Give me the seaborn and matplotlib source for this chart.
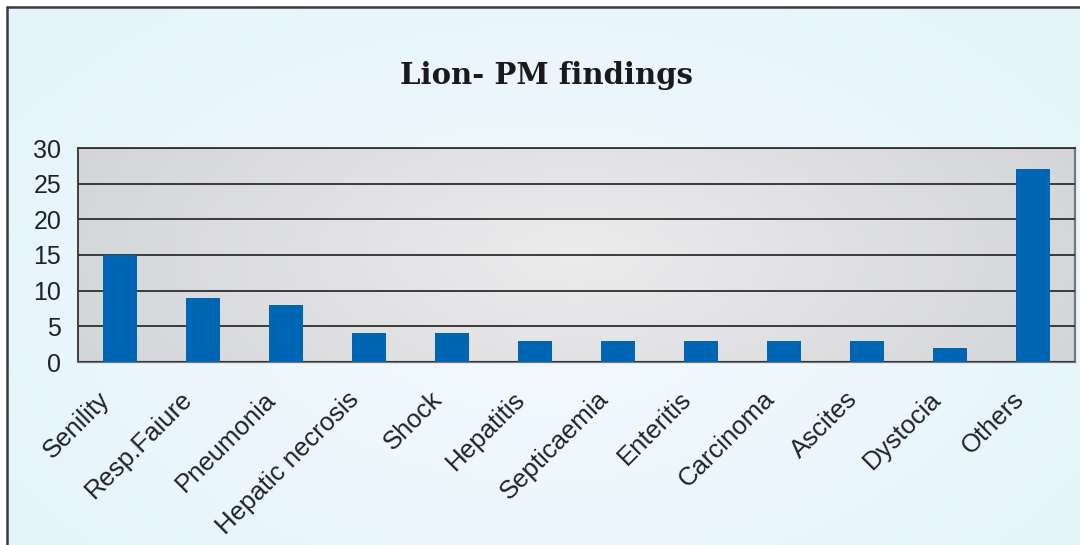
import numpy as np
import pandas as pd
import matplotlib
matplotlib.use("Agg")
import matplotlib.pyplot as plt
import matplotlib.transforms as mtransforms
import seaborn as sns
from matplotlib.lines import Line2D

categories = ["Senility", "Resp.Faiure", "Pneumonia", "Hepatic necrosis", "Shock",
              "Hepatitis", "Septicaemia", "Enteritis", "Carcinoma", "Ascites",
              "Dystocia", "Others"]
counts = [15, 9, 8, 4, 4, 3, 3, 3, 3, 3, 2, 27]
y_ticks = [0, 5, 10, 15, 20, 25, 30]
title_text = "Lion- PM findings"

df = pd.DataFrame({"finding": categories, "count": counts})

sns.set_theme(style="white")
plt.rcParams["font.family"] = ["Liberation Sans", "DejaVu Sans"]

W, H = 1080, 545
fig = plt.figure(figsize=(W / 100, H / 100), dpi=100)
fig.patch.set_facecolor("white")

# light blue panel background with a soft radial glow
bg = fig.add_axes([7 / W, 0, 1 - 7 / W, 1 - 7 / H], zorder=-10)
yy, xx = np.mgrid[0:1:200j, 0:1:400j]
r = np.sqrt(((xx - 0.5) / 0.75) ** 2 + ((yy - 0.45) / 0.9) ** 2)
r = np.clip(r, 0, 1)
c_in = np.array([0.955, 0.978, 0.995])
c_out = np.array([0.885, 0.955, 0.985])
img = c_in[None, None, :] * (1 - r[..., None]) + c_out[None, None, :] * r[..., None]
bg.imshow(img, extent=[0, 1, 0, 1], aspect="auto", origin="lower")
bg.set_xlim(0, 1)
bg.set_ylim(0, 1)
bg.axis("off")

# panel frame (top and left edges)
fig.add_artist(Line2D([7 / W, 1], [1 - 7 / H, 1 - 7 / H], color="#3a3a3a", lw=1.8,
                      transform=fig.transFigure))
fig.add_artist(Line2D([7 / W, 7 / W], [0, 1 - 7 / H], color="#3a3a3a", lw=1.8,
                      transform=fig.transFigure))

# plot area
x0, x1 = 78, 1075
y0, y1 = 148, 362
ax = fig.add_axes([x0 / W, 1 - y1 / H, (x1 - x0) / W, (y1 - y0) / H])
ax.patch.set_alpha(0)

sns.barplot(data=df, x="finding", y="count", color="#0066b3", width=0.41,
            saturation=1, linewidth=0, edgecolor="none", ax=ax, zorder=3)

ax.set_xlim(-0.5, len(categories) - 0.5)
ax.set_ylim(0, 30)

# grey radial gradient inside the plot area
gy, gx = np.mgrid[0:1:100j, 0:1:400j]
gr = np.clip(np.sqrt(((gx - 0.5) / 0.55) ** 2 + ((gy - 0.5) / 1.2) ** 2), 0, 1)
g_in = np.array([0.925, 0.925, 0.93])
g_out = np.array([0.83, 0.835, 0.848])
gimg = g_in[None, None, :] * (1 - gr[..., None]) + g_out[None, None, :] * gr[..., None]
ax.imshow(gimg, extent=[-0.5, len(categories) - 0.5, 0, 30], aspect="auto",
          origin="lower", zorder=0)

ax.set_yticks(y_ticks)
ax.yaxis.grid(True, color="#2e2e2e", lw=1.3, zorder=1)
ax.set_axisbelow(False)
for line in ax.get_ygridlines():
    line.set_zorder(1)

ax.set_xlabel("")
ax.set_ylabel("")
ax.tick_params(axis="y", length=0, pad=12, labelsize=18, labelcolor="#222222")
ax.tick_params(axis="x", length=0, pad=18, labelsize=18.5, labelcolor="#222222")
shift = mtransforms.ScaledTranslation(-22 / 100, 0, fig.dpi_scale_trans)
for lab in ax.get_xticklabels():
    lab.set_rotation(45)
    lab.set_ha("right")
    lab.set_rotation_mode("anchor")
    lab.set_transform(lab.get_transform() + shift)

for side in ["left", "top"]:
    ax.spines[side].set_color("#333333")
    ax.spines[side].set_linewidth(1.3)
for side in ["right", "bottom"]:
    ax.spines[side].set_color("#777777")
    ax.spines[side].set_linewidth(1.6)

fig.text(547 / W, 1 - 75 / H, title_text, ha="center", va="center",
         fontsize=21, fontweight="bold", family=["DejaVu Serif"], color="#1a1a1a")

fig.savefig("out.png", dpi=100)
